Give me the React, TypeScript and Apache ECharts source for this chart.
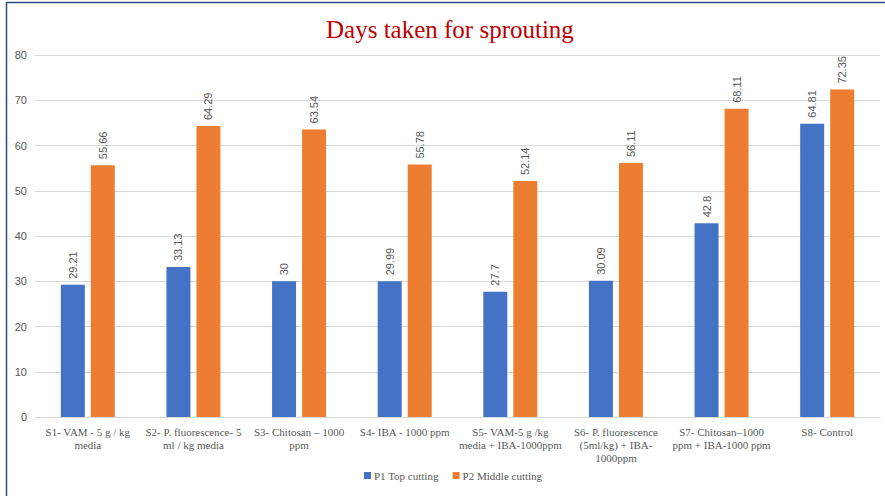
import React, { useEffect, useRef } from "react";
import * as echarts from "echarts";

const categories = [
  "S1- VAM - 5 g / kg\nmedia",
  "S2- P. fluorescence- 5\nml / kg media",
  "S3- Chitosan – 1000\nppm",
  "S4- IBA - 1000 ppm",
  "S5- VAM-5 g /kg\nmedia + IBA-1000ppm",
  "S6- P. fluorescence\n(5ml/kg) + IBA-\n1000ppm",
  "S7- Chitosan–1000\nppm + IBA-1000 ppm",
  "S8- Control",
];
const p1Top = [29.21, 33.13, 30, 29.99, 27.7, 30.09, 42.8, 64.81];
const p2Middle = [55.66, 64.29, 63.54, 55.78, 52.14, 56.11, 68.11, 72.35];
const seriesNames = ["P1 Top cutting", "P2 Middle cutting"];

const SERIF = "Liberation Serif";
const SANS = "Liberation Sans";

export default function App() {
  const ref = useRef<HTMLDivElement>(null);
  useEffect(() => {
    if (!ref.current) return;
    const chart = echarts.init(ref.current, null, { renderer: "svg" });
    const labelCfg = {
      show: true,
      position: "top" as const,
      rotate: 90,
      align: "left" as const,
      verticalAlign: "middle" as const,
      distance: 6,
      fontSize: 11,
      color: "#595959",
      fontFamily: SANS,
    };
    chart.setOption({
      animation: false,
      backgroundColor: "#ffffff",
      title: {
        text: "Days taken for sprouting",
        left: 321,
        top: 12,
        textStyle: {
          color: "#C00000",
          fontSize: 25,
          fontWeight: "normal",
          fontFamily: SERIF,
        },
      },
      graphic: [
        {
          type: "rect",
          shape: { x: 6.5, y: 2.5, width: 1000, height: 1000 },
          style: { fill: "none", stroke: "#2F4B7C", lineWidth: 1.5 },
          silent: true,
          z: 100,
        },
      ],
      legend: {
        bottom: 10,
        left: 359,
        itemWidth: 7,
        itemHeight: 7,
        itemGap: 14,
        icon: "rect",
        textStyle: {
          color: "#595959",
          fontSize: 11,
          fontFamily: SERIF,
          padding: [0, 0, 0, -2],
        },
        data: seriesNames,
      },
      grid: { left: 35, right: 5, top: 55, bottom: 79, containLabel: false },
      xAxis: {
        type: "category",
        data: categories,
        axisLine: { lineStyle: { color: "#D9D9D9" } },
        axisTick: { show: false },
        axisLabel: {
          interval: 0,
          color: "#595959",
          fontSize: 11,
          lineHeight: 13,
          margin: 8,
          fontFamily: SERIF,
        },
      },
      yAxis: {
        type: "value",
        min: 0,
        max: 80,
        interval: 10,
        axisLine: { show: false },
        axisTick: { show: false },
        splitLine: { lineStyle: { color: "#D9D9D9" } },
        axisLabel: {
          color: "#595959",
          fontSize: 11,
          margin: 8,
          fontFamily: SANS,
        },
      },
      series: [
        {
          name: seriesNames[0],
          type: "bar",
          data: p1Top,
          barWidth: 24,
          barGap: "25%",
          itemStyle: { color: "#4472C4" },
          label: labelCfg,
        },
        {
          name: seriesNames[1],
          type: "bar",
          data: p2Middle,
          barWidth: 24,
          itemStyle: { color: "#ED7D31" },
          label: labelCfg,
        },
      ],
    });
    return () => chart.dispose();
  }, []);
  return (
    <div
      ref={ref}
      style={{ position: "absolute", left: 0, top: 0, width: 885, height: 496 }}
    />
  );
}
